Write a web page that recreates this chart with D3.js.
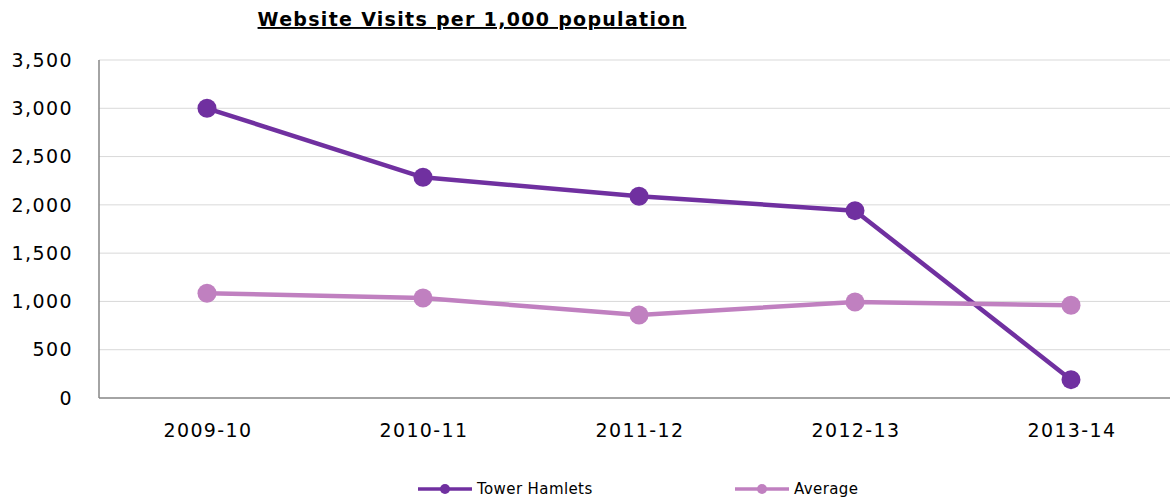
<!DOCTYPE html>
<html>
<head>
<meta charset="utf-8">
<script src="https://cdn.jsdelivr.net/npm/d3@7"></script>
<style>
    body { margin: 0; background: #fff; }
    svg { display: block; font-family: 'DejaVu Sans', Verdana, sans-serif; }
    .axis-label { font-size: 19px; fill: #000; letter-spacing: 1.4px; }
    .legend-label { font-size: 15px; fill: #000; letter-spacing: 0.4px; }
</style>
</head>
<body>
<div id="chart"></div>
<script>
const categories = ['2009-10', '2010-11', '2011-12', '2012-13', '2013-14'];
const towerHamlets = [3000, 2285, 2090, 1940, 190];
const average = [1085, 1035, 860, 995, 960];
const yTicks = [0, 500, 1000, 1500, 2000, 2500, 3000, 3500];

const series = [
    { label: 'Tower Hamlets', values: towerHamlets, color: '#7030a0' },
    { label: 'Average', values: average, color: '#c080c0' }
];

const width = 1170;
const height = 499;
const margin = { top: 60, right: -9, bottom: 101, left: 99 };

const svg = d3.select('#chart')
    .append('svg')
    .attr('width', width)
    .attr('height', height);

const x = d3.scaleBand()
    .domain(categories)
    .range([margin.left, width - margin.right]);

const y = d3.scaleLinear()
    .domain([0, 3500])
    .range([height - margin.bottom, margin.top]);

// gridlines
svg.append('g')
    .selectAll('line')
    .data(yTicks.filter(t => t > 0))
    .join('line')
    .attr('x1', margin.left)
    .attr('x2', width)
    .attr('y1', t => y(t))
    .attr('y2', t => y(t))
    .attr('stroke', '#d9d9d9')
    .attr('stroke-width', 1);

// y labels
svg.append('g')
    .selectAll('text')
    .data(yTicks)
    .join('text')
    .attr('class', 'axis-label')
    .attr('x', 73)
    .attr('y', t => y(t))
    .attr('dy', '0.35em')
    .attr('text-anchor', 'end')
    .text(t => d3.format(',')(t));

// axes lines
svg.append('line')
    .attr('x1', margin.left)
    .attr('x2', margin.left)
    .attr('y1', y(3500))
    .attr('y2', y(0))
    .attr('stroke', '#868686')
    .attr('stroke-width', 1.5);

svg.append('line')
    .attr('x1', margin.left)
    .attr('x2', width)
    .attr('y1', y(0))
    .attr('y2', y(0))
    .attr('stroke', '#868686')
    .attr('stroke-width', 1.5);

// x labels
svg.append('g')
    .selectAll('text')
    .data(categories)
    .join('text')
    .attr('class', 'axis-label')
    .attr('x', c => x(c) + x.bandwidth() / 2 + 1)
    .attr('y', 437)
    .attr('text-anchor', 'middle')
    .text(c => c);

const line = d3.line()
    .x((v, i) => x(categories[i]) + x.bandwidth() / 2)
    .y(v => y(v));

for (const s of series) {
    svg.append('path')
        .datum(s.values)
        .attr('fill', 'none')
        .attr('stroke', s.color)
        .attr('stroke-width', 4.5)
        .attr('stroke-linejoin', 'round')
        .attr('d', line);

    svg.append('g')
        .selectAll('circle')
        .data(s.values)
        .join('circle')
        .attr('cx', (v, i) => x(categories[i]) + x.bandwidth() / 2)
        .attr('cy', v => y(v))
        .attr('r', 9.5)
        .attr('fill', s.color);
}

// title
svg.append('text')
    .attr('x', 472)
    .attr('y', 26)
    .attr('text-anchor', 'middle')
    .attr('font-size', 19)
    .attr('font-weight', 'bold')
    .attr('letter-spacing', 1.3)
    .attr('text-decoration', 'underline')
    .text('Website Visits per 1,000 population');

// legend
const legendX = [418, 735];
series.forEach((s, i) => {
    const g = svg.append('g').attr('transform', `translate(${legendX[i]},489)`);
    g.append('line')
        .attr('x1', 0).attr('x2', 54)
        .attr('y1', 0).attr('y2', 0)
        .attr('stroke', s.color)
        .attr('stroke-width', 3.5);
    g.append('circle')
        .attr('cx', 27).attr('cy', 0).attr('r', 5)
        .attr('fill', s.color);
    g.append('text')
        .attr('class', 'legend-label')
        .attr('x', 59)
        .attr('y', 0)
        .attr('dy', '0.35em')
        .text(s.label);
});
</script>
</body>
</html>
